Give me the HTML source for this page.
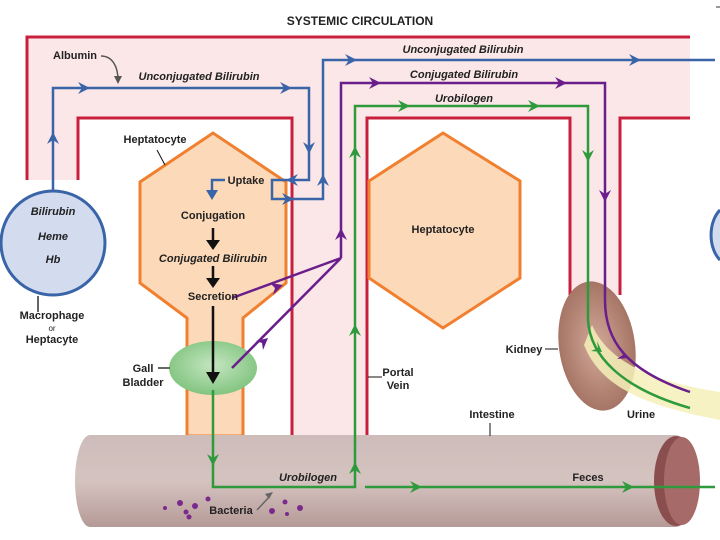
<!DOCTYPE html>
<html><head><meta charset="utf-8"><style>
html,body{margin:0;padding:0;background:#fff;}
svg{display:block;}
text{font-family:"Liberation Sans",sans-serif;font-weight:bold;font-size:11px;fill:#222;}
.i{font-style:italic;}
</style></head><body>
<svg width="720" height="540" viewBox="0 0 720 540">
<defs>
<radialGradient id="gb" cx="0.5" cy="0.45" r="0.6"><stop offset="0" stop-color="#c4e6c0"/><stop offset="1" stop-color="#7cc17a"/></radialGradient>
<linearGradient id="intg" x1="0" y1="0" x2="0" y2="1"><stop offset="0" stop-color="#cdbcb9"/><stop offset="0.5" stop-color="#d5c3c0"/><stop offset="1" stop-color="#b59a97"/></linearGradient>
<radialGradient id="kg" cx="0.5" cy="0.5" r="0.6"><stop offset="0" stop-color="#d3a99a"/><stop offset="1" stop-color="#9c6a5a"/></radialGradient>
</defs>
<path d="M27,37 H690 V118 H620 V295 H570 V118 H367 V435 H292 V118 H78 V180 H27 Z" fill="#fbe7e7"/>
<g stroke="#c8203c" stroke-width="3" fill="none">
<path d="M27,180 V37 H690"/>
<path d="M78,180 V118 H292 V435"/>
<path d="M367,435 V118 H570 V295"/>
<path d="M620,295 V118 H690"/>
</g>
<text x="360" y="25" text-anchor="middle" style="font-size:12px">SYSTEMIC CIRCULATION</text>
<path d="M716,7 H720" stroke="#333"/>
<path d="M140,182 L213,133 L286,182 L286,283 L243,318 L243,436 L187,436 L187,318 L140,283 Z" fill="#fcd9b8" stroke="#f08030" stroke-width="3"/>
<path d="M369,181 L443,133 L520,181 L520,278 L443,328 L369,278 Z" fill="#fcd9b8" stroke="#f08030" stroke-width="3"/>
<path d="M90,435 H675 A23,46 0 0 1 675,527 H90 A15,46 0 0 1 90,435 Z" fill="url(#intg)"/>
<ellipse cx="676" cy="481" rx="22" ry="45" fill="#8a4e4e"/>
<ellipse cx="682" cy="481" rx="18" ry="44" fill="#a66a68"/>
<ellipse cx="597" cy="346" rx="38" ry="65" fill="url(#kg)" transform="rotate(-8 597 346)"/>
<path d="M592,325 C605,355 640,380 720,392 L720,420 C640,405 600,385 584,345 Z" fill="#f5f0b8" opacity="0.85"/>
<ellipse cx="213" cy="368" rx="44" ry="27" fill="url(#gb)"/>
<circle cx="53" cy="243" r="52" fill="#d3dbee" stroke="#3a64a8" stroke-width="3"/>
<path d="M720,210 A20,30 0 0 0 720,260" fill="#d3dbee" stroke="#3a64a8" stroke-width="3"/>
<text class="i" x="53" y="215" text-anchor="middle">Bilirubin</text>
<text class="i" x="53" y="240" text-anchor="middle">Heme</text>
<text class="i" x="53" y="263" text-anchor="middle">Hb</text>
<path d="M38,296 V312" stroke="#333" stroke-width="1.5"/>
<text x="52" y="319" text-anchor="middle">Macrophage</text>
<text x="52" y="331" text-anchor="middle" style="font-size:8px;font-weight:normal">or</text>
<text x="52" y="343" text-anchor="middle">Heptacyte</text>
<g stroke="#3a64a8" stroke-width="2.5" fill="none">
<path d="M53,192 V88 H309 V180 H272 V199 H323 V60 H715"/>
<path d="M225,180 H212 V196"/>
</g>
<g fill="#3a64a8">
<path d="M53,132 l-6,12 l6,-4 l6,4z"/>
<path d="M90,88 l-12,-6 l4,6 l-4,6z"/>
<path d="M292,88 l-12,-6 l4,6 l-4,6z"/>
<path d="M309,154 l-6,-12 l6,4 l6,-4z"/>
<path d="M286,180 l12,-6 l-4,6 l4,6z"/>
<path d="M294,199 l-12,-6 l4,6 l-4,6z"/>
<path d="M323,174 l-6,12 l6,-4 l6,4z"/>
<path d="M357,60 l-12,-6 l4,6 l-4,6z"/>
<path d="M641,60 l-12,-6 l4,6 l-4,6z"/>
<path d="M212,200 l-6,-10 l12,0z"/>
</g>
<g stroke="#6a1e8c" stroke-width="2.5" fill="none">
<path d="M341,258 V83 H605 V300 C605,340 625,370 690,392"/>
<path d="M232,298 L341,258 L232,368"/>
</g>
<g fill="#6a1e8c">
<path d="M341,228 l-6,12 l6,-4 l6,4z"/>
<path d="M381,83 l-12,-6 l4,6 l-4,6z"/>
<path d="M567,83 l-12,-6 l4,6 l-4,6z"/>
<path d="M605,202 l-6,-12 l6,4 l6,-4z"/>
<path d="M283,285 l-13,-2 l5,5 l-2,7z"/>
<path d="M268,338 l-12,3 l6,2 l1,7z"/>
<path d="M628,358 l-8,-10 l3,7 l-6,4z"/>
</g>
<g stroke="#2e9a3c" stroke-width="2.5" fill="none">
<path d="M213,390 V487 H355 V106 H588 V320 C590,355 620,388 690,408"/>
<path d="M365,487 H715"/>
</g>
<g fill="#2e9a3c">
<path d="M213,466 l-6,-12 l6,4 l6,-4z"/>
<path d="M355,462 l-6,12 l6,-4 l6,4z"/>
<path d="M355,324 l-6,12 l6,-4 l6,4z"/>
<path d="M355,146 l-6,12 l6,-4 l6,4z"/>
<path d="M410,106 l-12,-6 l4,6 l-4,6z"/>
<path d="M540,106 l-12,-6 l4,6 l-4,6z"/>
<path d="M588,162 l-6,-12 l6,4 l6,-4z"/>
<path d="M422,487 l-12,-6 l4,6 l-4,6z"/>
<path d="M634,487 l-12,-6 l4,6 l-4,6z"/>
<path d="M602,352 l-5,-11 l1,7 l-7,3z"/>
</g>
<g stroke="#111" stroke-width="2.5" fill="none">
<path d="M213,228 V244"/><path d="M213,266 V282"/><path d="M213,306 V378"/>
</g>
<g fill="#111">
<path d="M213,250 l-7,-10 l14,0z"/>
<path d="M213,288 l-7,-10 l14,0z"/>
<path d="M213,384 l-7,-12 l14,0z"/>
</g>
<text x="75" y="59" text-anchor="middle">Albumin</text>
<path d="M101,56 C112,56 118,66 118,80" stroke="#555" stroke-width="1.5" fill="none"/>
<path d="M118,84 l-4,-8 l8,0z" fill="#555"/>
<text class="i" x="199" y="80" text-anchor="middle">Unconjugated Bilirubin</text>
<text class="i" x="463" y="53" text-anchor="middle">Unconjugated Bilirubin</text>
<text class="i" x="464" y="78" text-anchor="middle">Conjugated Bilirubin</text>
<text class="i" x="464" y="102" text-anchor="middle">Urobilogen</text>
<text x="155" y="143" text-anchor="middle">Heptatocyte</text>
<path d="M157,150 L165,165" stroke="#111"/>
<text x="246" y="184" text-anchor="middle">Uptake</text>
<text x="213" y="219" text-anchor="middle">Conjugation</text>
<text class="i" x="213" y="262" text-anchor="middle">Conjugated Bilirubin</text>
<text x="213" y="300" text-anchor="middle">Secretion</text>
<text x="443" y="233" text-anchor="middle">Heptatocyte</text>
<text x="143" y="372" text-anchor="middle">Gall</text>
<text x="143" y="386" text-anchor="middle">Bladder</text>
<path d="M158,368 H170" stroke="#666" stroke-width="2"/>
<path d="M368,377 H382" stroke="#111"/>
<text x="398" y="376" text-anchor="middle">Portal</text>
<text x="398" y="389" text-anchor="middle">Vein</text>
<text x="524" y="353" text-anchor="middle">Kidney</text>
<path d="M545,349 H558" stroke="#111"/>
<text x="641" y="418" text-anchor="middle">Urine</text>
<text x="492" y="418" text-anchor="middle">Intestine</text>
<path d="M490,423 V436" stroke="#111"/>
<text class="i" x="308" y="481" text-anchor="middle">Urobilogen</text>
<text x="588" y="481" text-anchor="middle">Feces</text>
<text x="231" y="514" text-anchor="middle">Bacteria</text>
<path d="M257,510 L270,496" stroke="#666" stroke-width="1.5"/>
<path d="M273,492 l-8,2 l4,5z" fill="#666"/>
<g fill="#7a2a8c">
<circle cx="165" cy="508" r="2"/><circle cx="180" cy="503" r="3"/><circle cx="186" cy="512" r="2.5"/><circle cx="195" cy="506" r="3"/><circle cx="208" cy="499" r="2.5"/><circle cx="189" cy="517" r="2.5"/>
<circle cx="272" cy="511" r="3"/><circle cx="285" cy="502" r="2.5"/><circle cx="287" cy="514" r="2"/><circle cx="300" cy="508" r="3"/>
</g>
</svg>
</body></html>
